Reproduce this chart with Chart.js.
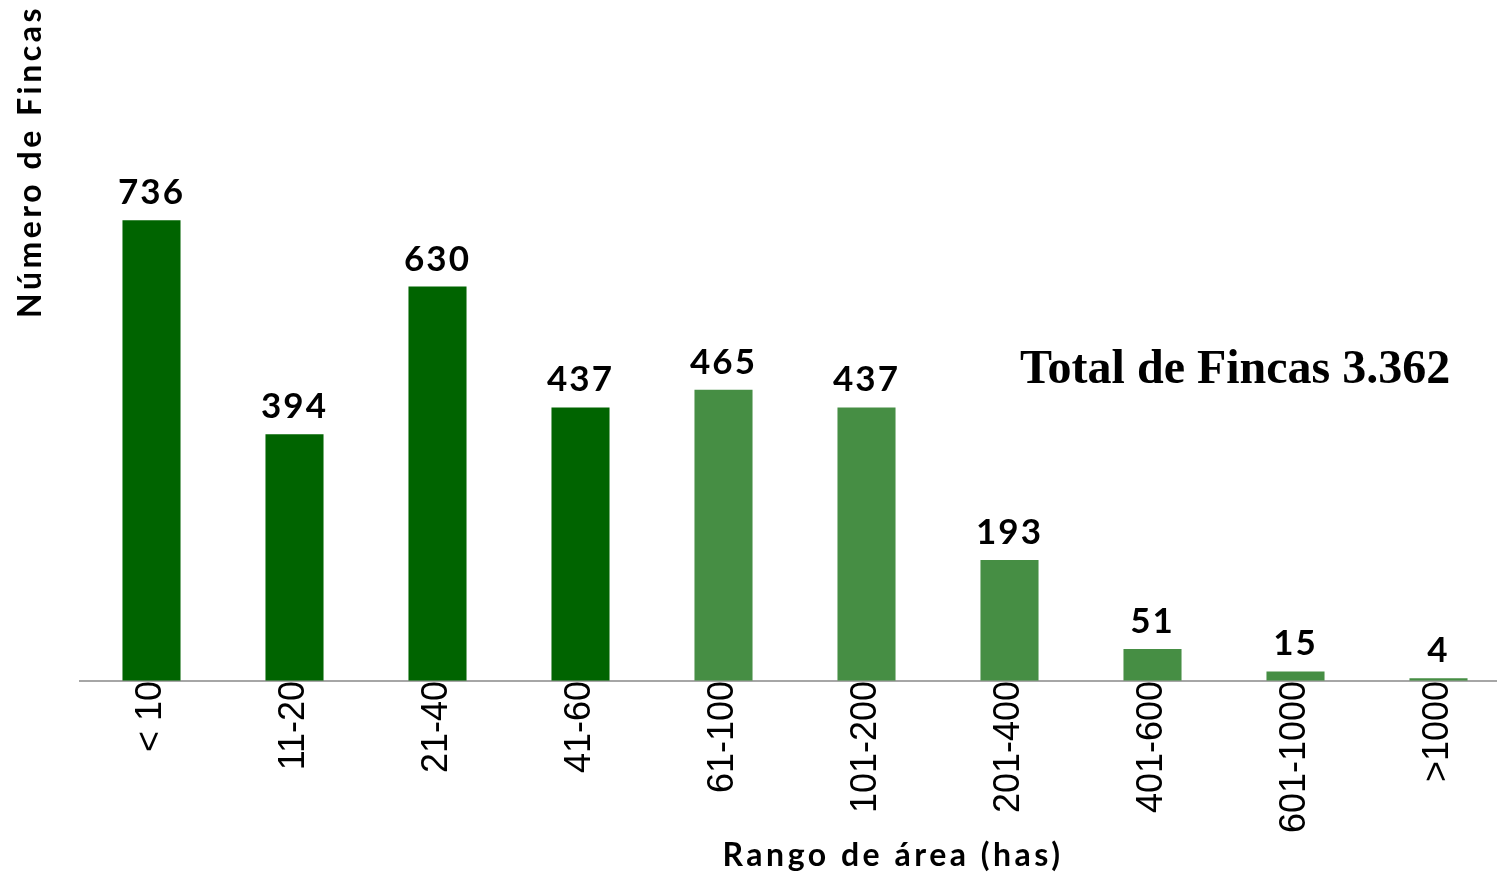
<!DOCTYPE html>
<html>
<head>
<meta charset="utf-8">
<script src="https://cdn.jsdelivr.net/npm/chart.js@4.4.1/dist/chart.umd.min.js"></script>
<style>
  html, body { margin: 0; padding: 0; background: #fff; overflow: hidden; }
  #wrap { position: relative; width: 1512px; height: 872px; }
</style>
</head>
<body>
<div id="wrap"><canvas id="chart-fincas"></canvas></div>
<script>
const CATEGORIES = ['< 10', '11-20', '21-40', '41-60', '61-100', '101-200', '201-400', '401-600', '601-1000', '>1000'];
const FINCAS = [736, 394, 630, 437, 465, 437, 193, 51, 15, 4];
const BAR_COLORS = ['#006400', '#006400', '#006400', '#006400', '#468e44', '#468e44', '#468e44', '#468e44', '#468e44', '#468e44'];
const TOTAL_LABEL = 'Total de Fincas 3.362';
const X_TITLE = 'Rango de área (has)';
const Y_TITLE = 'Número de Fincas';

// ── etiquetas de valor, títulos de ejes y total ────────────────────────────
const extras = {
    id: 'extras',
    afterDatasetsDraw(chart) {
        const { ctx, chartArea } = chart;
        const meta = chart.getDatasetMeta(0);
        ctx.save();
        ctx.fillStyle = '#000';
        ctx.textAlign = 'center';
        ctx.textBaseline = 'alphabetic';
        ctx.letterSpacing = '2px';
        ctx.font = 'bold 35px Lato, sans-serif';
        meta.data.forEach((bar, i) => {
            ctx.fillText(String(FINCAS[i]), bar.x, bar.y - 16);
        });

        ctx.letterSpacing = '3.5px';
        ctx.font = 'bold 32px Lato, sans-serif';
        ctx.fillText(X_TITLE, chartArea.left + 813, chartArea.bottom + 185);

        // título Y, vertical, termina arriba
        ctx.save();
        ctx.translate(chartArea.left - 49, chartArea.top);
        ctx.rotate(-Math.PI / 2);
        ctx.textAlign = 'right';
        ctx.textBaseline = 'middle';
        ctx.letterSpacing = '3.5px';
        ctx.font = 'bold 32px Lato, sans-serif';
        ctx.fillText(Y_TITLE, 0, 0);
        ctx.restore();

        ctx.letterSpacing = '0px';
        ctx.textAlign = 'left';
        ctx.font = 'bold 48px "Liberation Serif", serif';
        ctx.fillText(TOTAL_LABEL, chartArea.left + 940, chartArea.top + 378);
        ctx.restore();
    },
};

new Chart(document.getElementById('chart-fincas'), {
    type: 'bar',
    data: {
        labels: CATEGORIES,
        datasets: [{
            data: FINCAS,
            backgroundColor: BAR_COLORS,
            categoryPercentage: 1,
            barPercentage: 0.406,
            borderWidth: 0,
        }],
    },
    options: {
        responsive: true,
        maintainAspectRatio: false,
        animation: false,
        layout: { padding: { left: 80, top: 5, right: 2, bottom: 39 } },
        plugins: {
            legend: { display: false },
            tooltip: { enabled: false },
        },
        scales: {
            x: {
                grid: { display: false, drawTicks: false },
                border: { display: true, color: '#a6a6a6', width: 2 },
                ticks: {
                    color: '#000',
                    font: { family: '"Liberation Sans", sans-serif', size: 36 },
                    minRotation: 90,
                    maxRotation: 90,
                    padding: 0,
                    autoSkip: false,
                },
            },
            y: {
                display: false,
                min: 0,
                max: 1080,
            },
        },
    },
    plugins: [extras],
});
</script>
</body>
</html>
